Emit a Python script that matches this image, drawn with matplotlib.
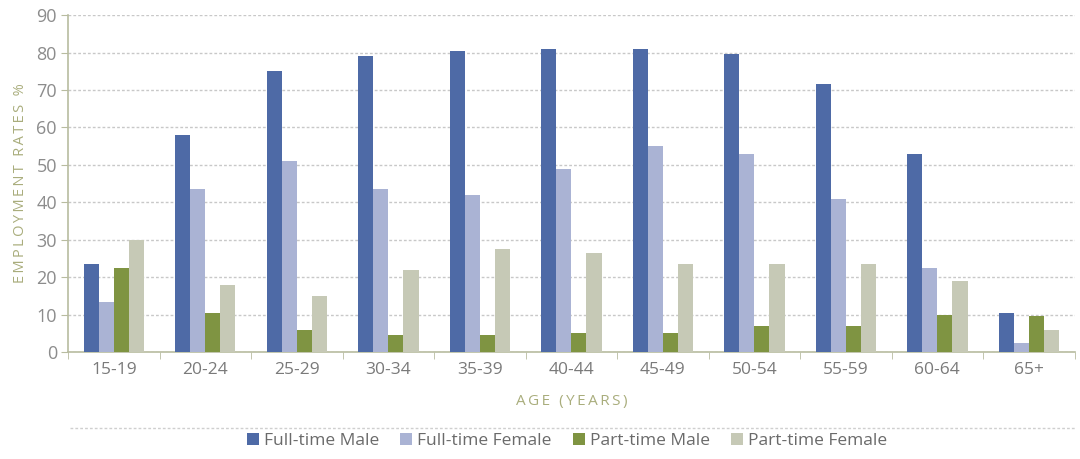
import numpy as np
from matplotlib import pylab as plt
from matplotlib.lines import Line2D

plt.rcParams['font.family'] = ['Open Sans', 'DejaVu Sans']

ages = ["15-19", "20-24", "25-29", "30-34", "35-39", "40-44",
        "45-49", "50-54", "55-59", "60-64", "65+"]
ft_male = [23.5, 58, 75, 79, 80.5, 81, 81, 79.5, 71.5, 53, 10.5]
ft_female = [13.5, 43.5, 51, 43.5, 42, 49, 55, 53, 41, 22.5, 2.5]
pt_male = [22.5, 10.5, 6, 4.5, 4.5, 5, 5, 7, 7, 10, 9.5]
pt_female = [30, 18, 15, 22, 27.5, 26.5, 23.5, 23.5, 23.5, 19, 6]

series = [("Full-time Male", ft_male, "#4e6aa6"),
          ("Full-time Female", ft_female, "#aab3d4"),
          ("Part-time Male", pt_male, "#7f9442"),
          ("Part-time Female", pt_female, "#c6c9b6")]


def spaced(s, sep="\u2009"):
    # loose letter spacing like the printed original
    return sep.join(s)


fig = plt.figure(figsize=(10.8, 4.59), dpi=100)
ax = fig.add_axes([0.063, 0.233, 0.932, 0.734])

x = np.arange(len(ages))
w = 0.165
for i, (name, vals, col) in enumerate(series):
    ax.bar(x + (i - 1.5) * w, vals, width=w, color=col, label=name, zorder=3)

ax.set_xlim(-0.5, len(ages) - 0.5)
ax.set_ylim(0, 90)
ax.set_yticks(np.arange(0, 91, 10))
ax.set_xticks(x)
ax.set_xticklabels(ages)
ax.set_xticks(np.arange(-0.5, len(ages), 1), minor=True)
ax.tick_params(axis='x', which='major', length=0, pad=7, labelsize=12.5, labelcolor="#7a7a7a")
ax.tick_params(axis='x', which='minor', length=5, color="#b8bca0")
ax.tick_params(axis='y', length=5, color="#b8bca0", labelsize=13, labelcolor="#8c8c8c", pad=3)

ax.grid(axis='y', linestyle=(0, (2, 1.5)), color="#c8c8c8", linewidth=1, zorder=0)
for s in ["top", "right"]:
    ax.spines[s].set_visible(False)
for s in ["left", "bottom"]:
    ax.spines[s].set_color("#b8bca0")
    ax.spines[s].set_linewidth(1.2)

ax.set_ylabel(spaced("EMPLOYMENT RATES %"), fontsize=10.5, color="#a9ad7c", labelpad=6)
ax.set_xlabel(spaced("AGE (YEARS)"), fontsize=11, color="#a9ad7c", labelpad=12)

fig.add_artist(Line2D([0.065, 0.995], [1 - 428 / 459, 1 - 428 / 459], transform=fig.transFigure,
                      linestyle=(0, (2, 1.5)), color="#cfcfcf", linewidth=1))

fig.legend(loc="center", bbox_to_anchor=(0.525, 1 - 441 / 459), ncol=4, frameon=False,
           fontsize=12.5, handlelength=0.7, handleheight=0.7, handletextpad=0.3,
           columnspacing=1.2, labelcolor="#6a6a6a")

plt.savefig("out.png", dpi=100)
